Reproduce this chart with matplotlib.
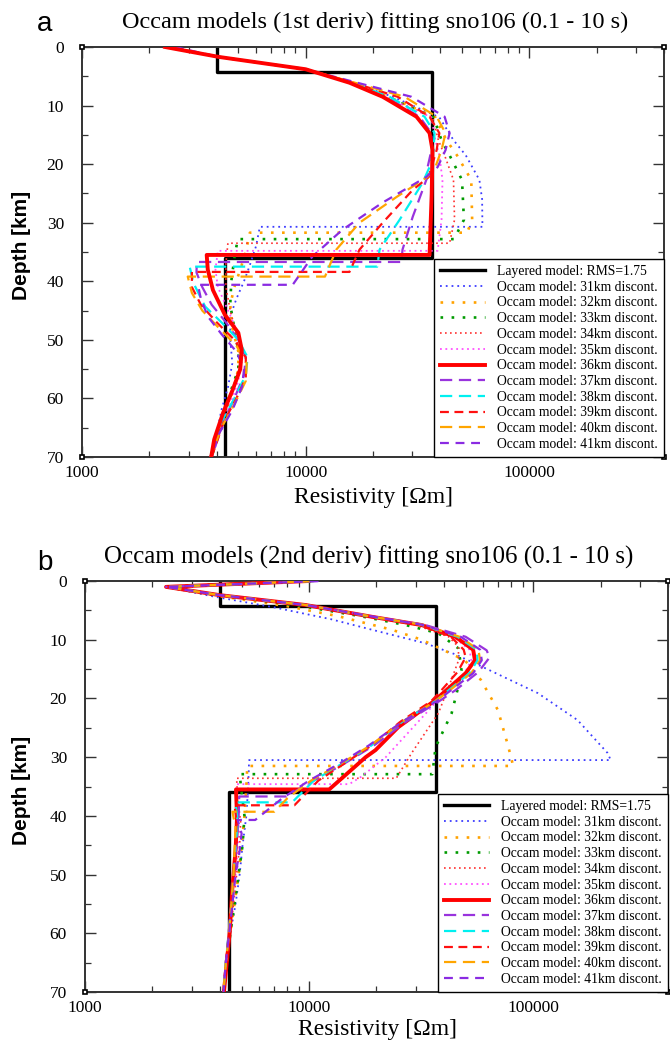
import numpy as np
import matplotlib
matplotlib.use('Agg')
import matplotlib.pyplot as plt
from matplotlib.ticker import LogLocator, FixedLocator, MultipleLocator, NullFormatter, FixedFormatter
from matplotlib.font_manager import FontProperties

plt.rcParams['font.family'] = 'Liberation Serif'

# Modelo por capas (igual en ambos paneles): limites en km y resistividad en ohm-m
capas_prof = [0, 4.2, 36, 70]
capas_rho = [4000, 36900, 4370]

# Panel a: Occam 1a derivada, puntos (profundidad km, resistividad ohm-m)
a31 = [(0, 2400), (1.7, 4100), (3.8, 10000), (6.1, 16200), (8.5, 24500), (12, 39600), (15.9, 45800),
       (18.5, 52000), (22.7, 59800), (26, 61500), (30.7, 61700), (30.7, 6240), (34, 6000), (37.5, 5600),
       (40, 5300), (43, 4900), (46, 4600), (50, 4600), (54, 4700), (58, 4500), (62, 4200), (66, 4000),
       (70, 3750)]
a32 = [(0, 2400), (1.7, 4100), (3.8, 10000), (6.1, 16000), (8.5, 23500), (12, 38000), (15.9, 42600),
       (18.5, 47500), (22.7, 55000), (29.5, 55500), (31.7, 52700), (31.7, 5630), (35, 5400), (38, 5100),
       (41, 4800), (44, 4600), (48, 4700), (52, 5000), (55, 5000), (59, 4700), (63, 4300), (70, 3800)]
a33 = [(0, 2350), (1.7, 4100), (3.8, 10000), (6.1, 15900), (8.5, 23000), (12, 37300), (15.9, 40500),
       (18.5, 44000), (22.7, 50000), (29.5, 51000), (32.8, 46000), (32.8, 4970), (36, 4800), (40, 4650),
       (44, 4600), (48, 4800), (52, 5000), (55, 5000), (59, 4600), (63, 4300), (70, 3800)]
a34 = [(0, 2350), (1.7, 4100), (3.8, 10000), (6.1, 15800), (8.5, 22800), (12, 36900), (15.9, 39200),
       (18.5, 41800), (22.7, 45800), (29.5, 46300), (33.5, 44000), (33.5, 4490), (37, 4400), (41, 4400),
       (45, 4600), (49, 4900), (53, 5100), (57, 4900), (61, 4500), (65, 4200), (70, 3800)]
a35 = [(0, 2350), (1.7, 4100), (3.8, 10000), (6.1, 15700), (8.5, 22500), (12, 36500), (15.9, 38000),
       (18.5, 39600), (22.7, 40900), (29.5, 40500), (34.8, 38900), (34.8, 4050), (38, 3950), (41, 4050),
       (45, 4500), (49, 5000), (53, 5200), (57, 5000), (61, 4600), (65, 4200), (70, 3800)]
a36 = [(0, 2350), (1.7, 4100), (3.8, 10000), (6.1, 15700), (8.5, 22100), (11.9, 31300), (14.7, 35800),
       (17.6, 36900), (25, 36600), (35.5, 35800), (35.5, 3610), (38, 3650), (41.5, 3850), (45.7, 4350),
       (48.8, 5000), (51.7, 5180), (55, 5100), (58.5, 4720), (62.5, 4270), (67, 3900), (70, 3780)]
a37 = [(0, 2500), (1.7, 4100), (3.8, 10000), (6.1, 15800), (8.5, 22800), (11.9, 32300), (14.7, 36500),
       (17.6, 36500), (20.5, 35100), (22.2, 35000), (29, 30100), (34.6, 27100), (36.7, 26800),
       (36.7, 3260), (38.5, 3250), (41, 3450), (44, 3800), (47, 4400), (50, 5000), (53, 5400), (56, 5300),
       (60, 4800), (64, 4300), (70, 3800)]
a38 = [(0, 2450), (1.7, 4100), (3.8, 10000), (6.1, 16000), (8.5, 23700), (11.9, 34000), (14.7, 37700),
       (17.6, 37300), (20.5, 35800), (23.2, 33300), (29.5, 26300), (34.6, 21400), (37.5, 20900),
       (37.5, 3030), (40.3, 3150), (44.3, 3550), (47, 4200), (50, 5000), (53, 5500), (56, 5400),
       (60, 4800), (64, 4200), (70, 3750)]
a39 = [(0, 2400), (1.7, 4100), (3.8, 10000), (6.1, 16300), (8.5, 25800), (11.9, 35800), (14.7, 39600),
       (17.6, 38500), (20.5, 36500), (22.2, 35500), (24.4, 30100), (30, 22100), (34.6, 17400),
       (38.4, 15700), (38.4, 3100), (41, 3100), (44, 3400), (47, 4000), (50, 4800), (53, 5400),
       (56.5, 5400), (60, 4900), (64, 4300), (70, 3800)]
a40 = [(0, 2400), (1.7, 4100), (3.8, 10000), (6.1, 16600), (8.5, 27700), (11.9, 38500), (14.7, 42200),
       (17.6, 40500), (20.5, 38000), (22.2, 35000), (25.6, 25500), (30, 17400), (34.6, 13700),
       (39.2, 12200), (39.2, 2970), (42, 3100), (45, 3450), (48, 4100), (51, 4900), (54, 5450), (57, 5400),
       (61, 4800), (65, 4200), (70, 3750)]
a41 = [(0, 2600), (1.7, 4100), (3.8, 10000), (6.1, 17000), (8.5, 29700), (11.9, 41800), (14.7, 44000),
       (17.6, 42200), (20.5, 38900), (22.2, 34600), (26.6, 22000), (31.2, 14600), (35.8, 10700),
       (40.6, 8750), (40.6, 3300), (43, 3400), (46, 3650), (49, 4200), (52, 4900), (55, 5300), (58, 5200),
       (62, 4700), (66, 4100), (70, 3750)]

# Panel b: Occam 2a derivada
b31 = [(0, 8000), (1.0, 2300), (2.6, 3700), (4.5, 7000), (6.5, 12500), (8.5, 20000), (10.6, 33000),
       (12.5, 45000), (14.7, 60000), (19.1, 105000), (23.7, 158000), (29.3, 215000), (30.5, 222000),
       (30.5, 5400), (35, 5350), (40, 5250), (45, 5050), (50, 4900), (55, 4700), (60, 4450), (65, 4300),
       (70, 4150)]
b32 = [(0, 9000), (1.0, 2300), (2.5, 3850), (4.3, 8000), (6, 13500), (8.3, 23400), (10, 31800),
       (13.5, 49600), (16.9, 58600), (22, 69700), (28.3, 77600), (31.5, 81500), (31.5, 5300), (35, 5250),
       (40, 5150), (45, 5000), (50, 4850), (55, 4650), (60, 4450), (65, 4300), (70, 4150)]
b33 = [(0, 9000), (1.0, 2300), (2.4, 3950), (4.2, 9000), (6, 17000), (7.5, 27000), (8.9, 37800),
       (11.5, 46500), (15.2, 47900), (18.5, 46000), (22.5, 43300), (28.3, 36700), (32.9, 35500),
       (32.9, 4900), (36, 5000), (40, 5150), (45, 5050), (50, 4850), (55, 4650), (60, 4450), (65, 4300),
       (70, 4150)]
b34 = [(0, 9500), (1.0, 2300), (2.4, 3980), (4.1, 9500), (6.1, 18500), (7.5, 30000), (9.5, 42000),
       (11.2, 46400), (13.5, 46500), (17, 43000), (22.5, 37800), (29.3, 28700), (33.6, 24500),
       (33.6, 4750), (37, 4800), (41, 4950), (45, 4900), (50, 4750), (55, 4600), (60, 4450), (65, 4300),
       (70, 4150)]
b35 = [(0, 9500), (1.0, 2300), (2.4, 3980), (4.1, 9600), (6.1, 19000), (7.5, 31000), (9.5, 44000),
       (11.7, 52000), (13.5, 53000), (15.7, 49500), (18.6, 40500), (21.5, 35200), (25, 29000),
       (30, 22000), (33.4, 17000), (34.6, 15100), (34.6, 4750), (38, 4750), (42, 4850), (46, 4800),
       (50, 4700), (55, 4550), (60, 4400), (65, 4250), (70, 4150)]
b36 = [(0, 10000), (1.0, 2300), (2.4, 3980), (4.1, 9700), (6.1, 19100), (7.5, 31800), (9.5, 45000),
       (11.7, 54000), (13.5, 55000), (15.7, 50000), (18.6, 41000), (20.5, 36000), (24.9, 25000),
       (28.8, 19800), (30, 17900), (35.5, 12300), (35.5, 4720), (40.2, 4770), (45.8, 4700),
       (52.6, 4540), (60, 4420), (70, 4170)]
b37 = [(0, 11000), (1.0, 2300), (2.4, 3980), (4.1, 9700), (6.1, 19500), (7.5, 33000), (9.5, 50000),
       (11.8, 62000), (13, 64000), (15.5, 57000), (18.6, 45000), (20.5, 38000), (24, 27000),
       (28, 19500), (31, 14500), (34, 10500), (36.7, 7900), (36.7, 4880), (40, 4850), (45, 4750),
       (50, 4600), (55, 4500), (60, 4380), (65, 4250), (70, 4150)]
b38 = [(0, 10500), (1.0, 2300), (2.4, 3980), (4.1, 9700), (6.1, 19100), (7.5, 32000), (9.5, 46000),
       (11.7, 56000), (13.5, 56500), (15.7, 52000), (18.6, 42000), (20.5, 36500), (24, 26000),
       (28, 19000), (31, 14200), (34, 10500), (37.7, 8400), (37.7, 4700), (41, 4800), (45, 4700),
       (50, 4600), (55, 4500), (60, 4380), (65, 4250), (70, 4150)]
b39 = [(0, 10000), (1.0, 2300), (2.4, 3980), (4.1, 9600), (6.1, 19100), (7.5, 31000), (9.5, 43000),
       (11.7, 49000), (13, 50000), (15.5, 46000), (18.6, 39000), (20.5, 35000), (24, 25500),
       (28, 19000), (31, 14500), (34, 11000), (38.2, 8600), (38.2, 4650), (41, 4750), (45, 4700),
       (50, 4600), (55, 4500), (60, 4400), (65, 4250), (70, 4150)]
b40 = [(0, 10500), (1.0, 2300), (2.4, 3980), (4.1, 9700), (6.1, 19300), (7.5, 32500), (9.5, 47000),
       (11.7, 57000), (13.5, 58000), (15.7, 53000), (18.6, 42500), (20.5, 36500), (24, 26000),
       (28, 18800), (31, 14000), (34, 10200), (37, 8000), (39.3, 7000), (39.3, 4550), (42, 4700),
       (46, 4650), (50, 4600), (55, 4500), (60, 4400), (65, 4250), (70, 4150)]
b41 = [(0, 11000), (1.0, 2300), (2.4, 3980), (4.1, 9700), (6.1, 19500), (7.5, 32500), (9.5, 47500),
       (11.7, 58000), (13.5, 59000), (15.7, 54000), (18.6, 43000), (20.5, 37000), (24, 26000),
       (28, 18500), (31, 13800), (34, 10000), (37, 7600), (40.7, 5750), (40.7, 4800), (43, 5000),
       (46, 4900), (50, 4700), (55, 4550), (60, 4400), (65, 4250), (70, 4150)]

discont = [31, 32, 33, 34, 35, 36, 37, 38, 39, 40, 41]
modelos_a = [a31, a32, a33, a34, a35, a36, a37, a38, a39, a40, a41]
modelos_b = [b31, b32, b33, b34, b35, b36, b37, b38, b39, b40, b41]

# estilo de cada curva (mismo orden que discont)
estilos = [
    dict(color='#3c3cff', ls=(0, (1, 2.2)), lw=1.3),
    dict(color='#ffa200', ls=(0, (1, 3.2)), lw=1.9),
    dict(color='#009a00', ls=(0, (1, 3.2)), lw=1.9),
    dict(color='#ff3030', ls=(0, (1, 2.0)), lw=1.2),
    dict(color='#ff50ff', ls=(0, (1, 2.0)), lw=1.3),
    dict(color='#ff0000', ls='-', lw=2.8),
    dict(color='#9933dd', ls=(0, (5.5, 3)), lw=1.6),
    dict(color='#00f0f0', ls=(0, (5.5, 3)), lw=1.6),
    dict(color='#ff1010', ls=(0, (4, 2.5)), lw=1.6),
    dict(color='#ffa500', ls=(0, (5.5, 3)), lw=1.6),
    dict(color='#8a2be2', ls=(0, (4, 3)), lw=1.6),
]

fig = plt.figure(figsize=(6.7, 10.48), dpi=100)
W, H = 670.0, 1048.0
ax_a = fig.add_axes([82 / W, 1 - 457 / H, 582 / W, 410 / H])
ax_b = fig.add_axes([85 / W, 1 - 992 / H, 583 / W, 411 / H])

fuente_leyenda = FontProperties(family='Liberation Serif', size=9.8)


def dibujar_panel(ax, modelos, rojo_arriba):
    # modelo por capas como escalera
    xs, ys = [], []
    for i, r in enumerate(capas_rho):
        xs += [r, r]
        ys += [capas_prof[i], capas_prof[i + 1]]
    lineas = [ax.plot(xs, ys, color='black', lw=2.4, zorder=2,
                      label='Layered model: RMS=1.75')[0]]
    for d, mod, est in zip(discont, modelos, estilos):
        m = np.array(mod, dtype=float)
        z = 4 if (d == 36 and rojo_arriba) else 3
        ln, = ax.plot(m[:, 1], m[:, 0], color=est['color'], linestyle=est['ls'],
                      lw=est['lw'], zorder=z, label=f'Occam model: {d}km discont.')
        lineas.append(ln)

    ax.set_xscale('log')
    ax.set_xlim(1000, 400000)
    ax.set_ylim(70, 0)
    ax.xaxis.set_major_locator(FixedLocator([1e3, 1e4, 1e5]))
    ax.xaxis.set_major_formatter(FixedFormatter(['1000', '10000', '100000']))
    ax.xaxis.set_minor_locator(LogLocator(base=10, subs=np.arange(2, 10)))
    ax.xaxis.set_minor_formatter(NullFormatter())
    ax.yaxis.set_major_locator(MultipleLocator(10))
    ax.yaxis.set_minor_locator(MultipleLocator(5))
    ax.tick_params(which='both', direction='in', top=True, right=True,
                   labelsize=12.5, color='#333333')
    ax.tick_params(which='major', length=8, width=1)
    ax.tick_params(which='minor', length=4.5, width=0.9)
    ax.tick_params(axis='y', pad=13)
    ax.tick_params(axis='x', pad=6)
    for s in ax.spines.values():
        s.set_linewidth(1.4)
        s.set_color('#333333')

    # cuadritos en las esquinas
    ax.plot([0, 1, 0, 1], [0, 0, 1, 1], 's', ms=3.5, mfc='white', mec='black',
            mew=1.2, transform=ax.transAxes, clip_on=False, zorder=10)

    leg = ax.legend(handles=lineas, loc='lower right', borderaxespad=0, frameon=True,
                    fancybox=False, framealpha=1, edgecolor='black', prop=fuente_leyenda,
                    handlelength=3.3, handletextpad=0.9, labelspacing=0.2, borderpad=0.45)
    leg.get_frame().set_linewidth(1.0)
    leg.set_zorder(20)


dibujar_panel(ax_a, modelos_a, True)
dibujar_panel(ax_b, modelos_b, False)

# titulos, letras de panel y etiquetas de ejes
fig.text(375 / W, 1 - 22 / H, 'Occam models (1st deriv) fitting sno106 (0.1 - 10 s)',
         ha='center', va='center', fontsize=17.5)
fig.text(369 / W, 1 - 557 / H, 'Occam models (2nd deriv) fitting sno106 (0.1 - 10 s)',
         ha='center', va='center', fontsize=18)
fig.text(45 / W, 1 - 24 / H, 'a', ha='center', va='center', fontsize=20, family='Liberation Sans')
fig.text(45 / W, 1 - 563 / H, 'b', ha='center', va='center', fontsize=20, family='Liberation Sans')

for yc in (245, 790):
    fig.text(22 / W, 1 - yc / H, 'Depth [km]', rotation=90, ha='center', va='center',
             fontsize=15, fontweight='bold', family='Liberation Sans')
fig.text(374 / W, 1 - 497 / H, 'Resistivity [\u03a9m]', ha='center', va='center', fontsize=17)
fig.text(377 / W, 1 - 1030 / H, 'Resistivity [\u03a9m]', ha='center', va='center', fontsize=17)

fig.savefig('out.png', dpi=100)
